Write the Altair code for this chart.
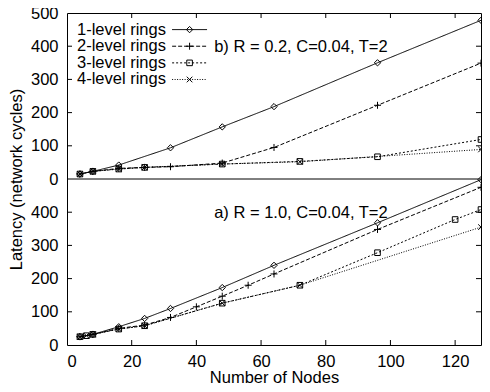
import altair as alt
import pandas as pd

FONT = "Liberation Sans"
FS = 16.5

names = ["1-level rings", "2-level rings", "3-level rings", "4-level rings"]

# ---- panel b) R = 0.2 (upper panel) ----
b1_x = [4, 8, 16, 32, 48, 64, 96, 128]
b1_y = [15, 23, 42, 94, 157, 218, 350, 478]
b2_x = [4, 8, 16, 24, 32, 48, 64, 96, 128]
b2_y = [15, 23, 32, 35, 37, 48, 95, 222, 349]
b3_x = [4, 8, 16, 24, 48, 72, 96, 128]
b3_y = [15, 23, 30, 35, 45, 53, 67, 119]
b4_x = [4, 8, 16, 24, 48, 72, 128]
b4_y = [15, 23, 30, 35, 45, 52, 89]

# ---- panel a) R = 1.0 (lower panel) ----
a1_x = [4, 8, 16, 24, 32, 48, 64, 96, 128]
a1_y = [25, 32, 55, 80, 110, 173, 240, 368, 498]
a2_x = [4, 8, 16, 24, 32, 40, 48, 56, 64, 96, 128]
a2_y = [25, 32, 50, 60, 83, 115, 147, 180, 214, 348, 475]
a3_x = [4, 6, 8, 16, 24, 48, 72, 96, 120, 128]
a3_y = [25, 28, 32, 48, 58, 126, 180, 278, 378, 408]
a4_x = [4, 6, 8, 16, 24, 48, 72, 128]
a4_y = [25, 28, 32, 48, 58, 126, 180, 355]

panel_labels = ["b) R = 0.2, C=0.04, T=2", "a) R = 1.0, C=0.04, T=2"]

x_tick_values = [0, 20, 40, 60, 80, 100, 120]
y_tick_values = [0, 100, 200, 300, 400, 500, 600, 700, 800, 900, 1000]
inner_x_ticks = [20, 40, 60, 80, 100, 120]
inner_y_ticks = [100, 200, 300, 400, 600, 700, 800, 900]

dashes = [[1, 0], [4, 2], [2, 2], [1, 1.5]]
shapes = [
    "M0,-0.9L0.9,0L0,0.9L-0.9,0Z",
    "M-1,0H1M0,-1V1",
    "M-0.8,-0.8H0.8V0.8H-0.8Z",
    "M-0.8,-0.8L0.8,0.8M-0.8,0.8L0.8,-0.8",
]

series = {
    "b": [(b1_x, b1_y), (b2_x, b2_y), (b3_x, b3_y), (b4_x, b4_y)],
    "a": [(a1_x, a1_y), (a2_x, a2_y), (a3_x, a3_y), (a4_x, a4_y)],
}
rows = []
for panel, lst in series.items():
    for name, (xs, ys) in zip(names, lst):
        for xv, yv in zip(xs, ys):
            rows.append({"panel": panel, "series": name, "nodes": xv, "latency": yv})
df = pd.DataFrame(rows)

xscale = alt.Scale(domain=[0, 128], nice=False, zero=False)
yscale = alt.Scale(domain=[0, 1000], nice=False)
dash_scale = alt.Scale(domain=names, range=dashes)
shape_scale = alt.Scale(domain=names, range=shapes)

xaxis = alt.Axis(values=x_tick_values, ticks=False, domain=False,
                 grid=False, labelPadding=8, titlePadding=0)
yaxis = alt.Axis(values=y_tick_values, ticks=False, domain=False,
                 grid=False, labelPadding=9, titlePadding=6,
                 labelExpr="datum.value >= 500 ? format(datum.value - 500, 'd') : format(datum.value, 'd')")
X = alt.X("nodes:Q", scale=xscale, title="Number of Nodes", axis=xaxis)
Y = alt.Y("yplot:Q", scale=yscale, title="Latency (network cycles)", axis=yaxis)

base = alt.Chart(df).transform_calculate(
    yplot="datum.panel == 'b' ? datum.latency + 500 : datum.latency"
)

lines = base.mark_line(strokeWidth=1, color="black", clip=True).encode(
    x=X, y=Y, detail="panel:N",
    strokeDash=alt.StrokeDash("series:N", scale=dash_scale, legend=None),
)

points = base.mark_point(filled=False, size=49, strokeWidth=1, color="black",
                         opacity=1, clip=True).encode(
    x=X, y=Y,
    shape=alt.Shape("series:N", scale=shape_scale, legend=None),
)

# inner tick marks (gnuplot style) at the frame edges
xt_df = pd.DataFrame([{"nodes": v, "yplot": e} for v in inner_x_ticks for e in (0, 1000)])
yt_df = pd.DataFrame([{"nodes": e, "yplot": v} for v in inner_y_ticks for e in (0, 128)])

xticks = alt.Chart(xt_df).mark_tick(orient="vertical", size=10, thickness=1,
                                    color="black", clip=True, opacity=1).encode(x=X, y=Y)
yticks = alt.Chart(yt_df).mark_tick(orient="horizontal", size=10, thickness=1,
                                    color="black", clip=True, opacity=1).encode(x=X, y=Y)

mid = alt.Chart(pd.DataFrame({"yplot": [500]})).mark_rule(
    color="black", strokeWidth=1).encode(y=Y)

# panel annotations
ann_df = pd.DataFrame({"t": panel_labels, "nodes": [45.5, 45.5], "yplot": [898, 397]})
ann = alt.Chart(ann_df).mark_text(
    align="left", baseline="middle", fontSize=FS, font=FONT, color="black").encode(
    x=X, y=Y, text="t:N")

# gnuplot-style key: label, then line sample with the marker in its middle
key_df = pd.DataFrame({"series": names, "i": list(range(len(names)))})
key = alt.Chart(key_df).transform_calculate(yplot="950 - 50.1 * datum.i")
key_text = key.transform_calculate(nodes="30.6").mark_text(
    align="right", baseline="middle", fontSize=FS, font=FONT, color="black").encode(
    x=X, y=Y, text="series:N")
key_line = key.transform_calculate(nodes="32.5", nodes2="43.3").mark_rule(
    strokeWidth=1, color="black").encode(
    x=X, x2="nodes2:Q", y=Y,
    strokeDash=alt.StrokeDash("series:N", scale=dash_scale, legend=None))
key_point = key.transform_calculate(nodes="37.9").mark_point(
    filled=False, size=49, strokeWidth=1, color="black", opacity=1).encode(
    x=X, y=Y,
    shape=alt.Shape("series:N", scale=shape_scale, legend=None))

chart = alt.layer(lines, xticks, yticks, mid, points, ann, key_text, key_line,
                  key_point).properties(
    width=414, height=332,
    autosize=alt.AutoSizeParams(type="none"),
    padding={"left": 59, "top": 5, "right": 1, "bottom": 47},
).configure_view(stroke="black", strokeWidth=1).configure_axis(
    labelFont=FONT, labelFontSize=FS, labelColor="black",
    titleFont=FONT, titleFontSize=FS, titleColor="black", titleFontWeight="normal",
)

chart.save("out.html", embed_options={"renderer": "svg", "actions": False})
